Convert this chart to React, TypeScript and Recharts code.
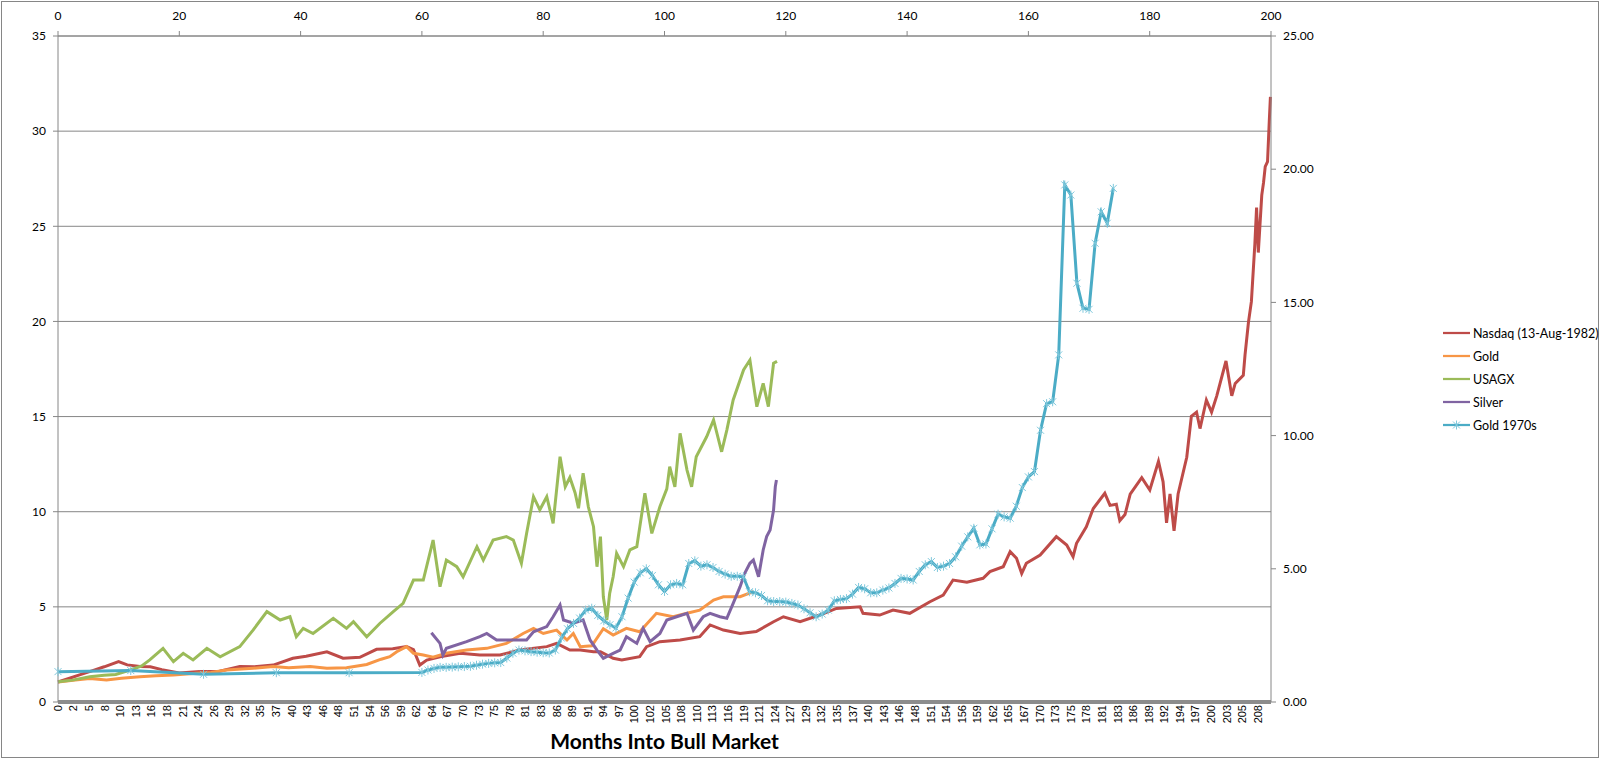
import React from 'react';
import { LineChart, Line, XAxis, YAxis, CartesianGrid, Legend } from 'recharts';

// bottom (primary) category labels, months into the bull market
const BOTTOM_LABELS = [
  '0', '2', '5', '8', '10', '13', '16', '18', '21', '24', '26', '29', '32', '35', '37', '40', '43', '46', '48', '51',
  '54', '56', '59', '62', '64', '67', '70', '73', '75', '78', '81', '83', '86', '89', '91', '94', '97', '100', '102', '105',
  '108', '110', '113', '116', '119', '121', '124', '127', '129', '132', '135', '137', '140', '143', '146', '148', '151', '154', '156', '159',
  '162', '165', '167', '170', '173', '175', '178', '181', '183', '186', '189', '192', '194', '197', '200', '203', '205', '208',
];
const LABEL_STEP = 2.7005;
const BOTTOM_MAX = 210.2;
const TOP_TICKS = [0, 20, 40, 60, 80, 100, 120, 140, 160, 180, 200];
const LEFT_TICKS = [0, 5, 10, 15, 20, 25, 30, 35];
const RIGHT_TICKS = [0, 5, 10, 15, 20, 25];

// [month, value]
const NASDAQ: [number, number][] = [
  [0, 1.05], [2, 1.25], [4, 1.45], [6, 1.65], [8, 1.85], [10.5, 2.12], [12, 1.95], [14.2, 1.86], [16, 1.85], [18, 1.7],
  [21, 1.52], [24.6, 1.6], [28, 1.62], [31.5, 1.86], [34, 1.85], [37.3, 1.94], [40.7, 2.3], [43, 2.4], [46.6, 2.64], [49.4, 2.3],
  [52.3, 2.35], [55.2, 2.77], [58, 2.8], [60.4, 2.91], [61.6, 2.75], [62.7, 1.94], [63.9, 2.2], [66.2, 2.38], [69.7, 2.56], [73.1, 2.47],
  [76.6, 2.47], [80, 2.73], [84.7, 2.91], [86.4, 3.08], [88.7, 2.73], [90.5, 2.73], [92.8, 2.64], [94, 2.64], [96.2, 2.3], [97.7, 2.21],
  [100.8, 2.38], [102, 2.91], [104.3, 3.17], [107.8, 3.26], [111.2, 3.43], [113, 4.05], [115.3, 3.78], [118.2, 3.6], [121, 3.7], [124, 4.22],
  [125.7, 4.48], [128.6, 4.22], [132, 4.57], [134.9, 4.92], [139, 5.0], [139.5, 4.66], [142.4, 4.57], [144.7, 4.83], [147.6, 4.66], [151.1, 5.27],
  [153.4, 5.62], [155.1, 6.41], [157.5, 6.3], [160.3, 6.5], [161.5, 6.85], [163.8, 7.11], [165, 7.9], [166.1, 7.55], [167, 6.76], [167.8, 7.29],
  [170.2, 7.72], [173, 8.69], [174.8, 8.25], [175.9, 7.64], [176.5, 8.34], [178.2, 9.21], [179.4, 10.17], [181.4, 10.97], [182.3, 10.33], [183.4, 10.39],
  [184, 9.53], [184.9, 9.85], [185.8, 10.93], [187.8, 11.79], [189.2, 11.14], [190.7, 12.65], [191.5, 11.57], [192.1, 9.42], [192.7, 10.93], [193.4, 8.99],
  [194.1, 10.93], [195.6, 12.86], [196.4, 15.01], [197.3, 15.23], [197.9, 14.37], [199, 15.87], [199.9, 15.23], [200.8, 16.09], [202.4, 17.92], [203.4, 16.09],
  [204, 16.74], [205.4, 17.17], [205.7, 18.24], [206.3, 19.97], [206.8, 21.04], [207.4, 24.05], [207.7, 25.99], [208, 23.62], [208.6, 26.64], [208.9, 27.28],
  [209.2, 28.14], [209.6, 28.4], [209.9, 30.51], [210.1, 31.8],
];

const GOLD: [number, number][] = [
  [0, 1.05], [3, 1.15], [5.5, 1.24], [8.4, 1.16], [11, 1.25], [14.2, 1.33], [17, 1.38], [20, 1.42], [24, 1.51], [26.5, 1.55],
  [29.2, 1.68], [33.8, 1.77], [37.3, 1.86], [40, 1.8], [43.7, 1.86], [46.6, 1.77], [50, 1.8], [53.5, 1.97], [56, 2.25], [57.5, 2.38],
  [58.7, 2.64], [60.4, 2.91], [61.6, 2.56], [63.3, 2.47], [65, 2.35], [67.3, 2.56], [70.8, 2.73], [74.3, 2.82], [77.7, 3.08], [80.6, 3.6],
  [82.4, 3.87], [84.1, 3.6], [86.4, 3.78], [88.2, 3.26], [89.3, 3.6], [90.5, 2.91], [92.5, 2.95], [94.5, 3.85], [96.2, 3.52], [98.5, 3.87],
  [100.8, 3.69], [103.7, 4.66], [106.6, 4.48], [109, 4.66], [111.2, 4.83], [113.6, 5.36], [115.3, 5.53], [118.2, 5.53], [120.5, 5.8],
];

const USAGX: [number, number][] = [
  [0, 1.07], [2.5, 1.15], [5.5, 1.33], [8, 1.4], [10, 1.45], [12.5, 1.68], [14.5, 1.9], [15.9, 2.21], [18.2, 2.82], [20, 2.12],
  [21.7, 2.56], [23.4, 2.21], [25.8, 2.82], [28.1, 2.38], [31.5, 2.91], [33.8, 3.78], [36.2, 4.75], [38.5, 4.31], [40.2, 4.48], [41.3, 3.43],
  [42.5, 3.87], [44.2, 3.6], [47.7, 4.4], [50, 3.87], [51.2, 4.22], [53.5, 3.43], [55.8, 4.14], [58.1, 4.75], [59.8, 5.18], [61.6, 6.41],
  [63.3, 6.41], [65, 8.51], [66.2, 6.06], [67.3, 7.46], [69.1, 7.11], [70.2, 6.58], [72.6, 8.16], [73.7, 7.46], [75.4, 8.51], [77.7, 8.69],
  [78.9, 8.51], [80.3, 7.29], [81.2, 8.86], [82.4, 10.79], [83.5, 10.1], [84.7, 10.79], [85.8, 9.39], [87, 12.89], [87.9, 11.31], [88.7, 11.8],
  [89.6, 11.0], [90.2, 10.18], [91, 12.02], [91.9, 10.26], [92.8, 9.21], [93.4, 7.11], [94, 8.69], [94.5, 5.53], [95.1, 4.31], [95.6, 5.71],
  [96.2, 6.58], [96.8, 7.81], [98, 7.11], [99.1, 7.99], [100.3, 8.16], [101.7, 10.97], [102.9, 8.86], [104.3, 10.26], [105.5, 11.2], [106, 12.37],
  [106.9, 11.3], [107.8, 14.12], [109, 12.19], [109.8, 11.31], [110.6, 12.89], [112.4, 13.94], [113.6, 14.82], [115, 13.15], [115.9, 14.29], [117, 15.87],
  [118.8, 17.45], [119.9, 17.97], [121.1, 15.52], [122.2, 16.75], [123.1, 15.52], [124, 17.8], [124.6, 17.9],
];

const SILVER: [number, number][] = [
  [64.7, 3.64], [66.2, 3.08], [66.7, 2.47], [67.3, 2.82], [70.8, 3.17], [73.1, 3.43], [74.3, 3.6], [76, 3.26], [78.9, 3.26], [81.2, 3.26],
  [82.4, 3.69], [84.7, 3.96], [85.8, 4.48], [87, 5.1], [87.6, 4.31], [89.3, 4.14], [91, 4.31], [92.2, 3.26], [93.4, 2.73], [94.5, 2.3],
  [96.2, 2.56], [97.4, 2.73], [98.5, 3.43], [100.3, 3.08], [101.4, 3.87], [102.6, 3.17], [104.3, 3.6], [105.5, 4.31], [107.2, 4.48], [109, 4.66],
  [110.1, 3.78], [111.8, 4.48], [113, 4.66], [114.7, 4.48], [115.9, 4.4], [117, 5.18], [118.2, 6.06], [119, 6.76], [119.9, 7.29], [120.5, 7.46],
  [121.4, 6.58], [122.2, 7.99], [122.8, 8.69], [123.4, 9.04], [124, 10.09], [124.3, 11.31], [124.5, 11.67],
];

// Gold 1970s: [month (top axis), value (right axis)]
const GOLD_70S: [number, number][] = [
  [0, 1.14], [12, 1.18], [24, 1.04], [36, 1.1], [48, 1.1], [60, 1.11], [61, 1.2], [62, 1.26], [63, 1.3], [64, 1.3],
  [65, 1.31], [66, 1.32], [67, 1.33], [68, 1.34], [69, 1.38], [70, 1.42], [71, 1.45], [72, 1.47], [73, 1.48], [74, 1.65],
  [75, 1.83], [76, 1.95], [77, 1.92], [78, 1.89], [79, 1.87], [80, 1.85], [81, 1.84], [82, 1.95], [83, 2.4], [84, 2.75],
  [85, 2.95], [86, 3.15], [87, 3.45], [88, 3.52], [89, 3.25], [90, 3.05], [91, 2.9], [92, 2.78], [93, 3.2], [94, 3.9],
  [95, 4.5], [96, 4.85], [97, 5.0], [98, 4.75], [99, 4.4], [100, 4.15], [101, 4.4], [102, 4.45], [103, 4.4], [104, 5.2],
  [105, 5.3], [106, 5.1], [107, 5.15], [108, 5.05], [109, 4.9], [110, 4.8], [111, 4.72], [112, 4.72], [113, 4.7], [114, 4.14],
  [115, 4.1], [116, 4.0], [117, 3.8], [118, 3.77], [119, 3.77], [120, 3.75], [121, 3.7], [122, 3.64], [123, 3.5], [124, 3.35],
  [125, 3.2], [126, 3.3], [127, 3.45], [128, 3.8], [129, 3.85], [130, 3.88], [131, 4.05], [132, 4.3], [133, 4.25], [134, 4.1],
  [135, 4.1], [136, 4.2], [137, 4.28], [138, 4.45], [139, 4.64], [140, 4.62], [141, 4.58], [142, 4.9], [143, 5.15], [144, 5.27],
  [145, 5.05], [146, 5.1], [147, 5.2], [148, 5.45], [149, 5.85], [150, 6.2], [151, 6.52], [152, 5.9], [153, 5.93], [154, 6.5],
  [155, 7.05], [156, 6.95], [157, 6.9], [158, 7.35], [159, 8.05], [160, 8.45], [161, 8.65], [162, 10.2], [163, 11.2], [164, 11.27],
  [165, 13.03], [166, 19.41], [167, 19.03], [168, 15.72], [169, 14.78], [170, 14.74], [171, 17.22], [172, 18.4], [173, 17.97], [174, 19.28],
];

const SERIES = [
  { name: 'Nasdaq (13-Aug-1982)', color: '#BE4B48' },
  { name: 'Gold', color: '#F79646' },
  { name: 'USAGX', color: '#9BBB59' },
  { name: 'Silver', color: '#8064A2' },
  { name: 'Gold 1970s', color: '#4BACC6', star: true },
];

const FONT = 'Lato, "Open Sans", sans-serif';
const AXIS_GRAY = '#868686';
const STAR_COLOR = '#7fc8dc';

const toRows = (pts: [number, number][]) => pts.map(([m, v]) => ({ m, v }));
const toTopRows = (pts: [number, number][]) => pts.map(([t, r]) => ({ t, r }));

const bottomTicks = BOTTOM_LABELS.map((_, i) => i * LABEL_STEP);

const BottomTick = (props: any) => {
  const { x, y, payload } = props;
  const idx = Math.round(payload.value / LABEL_STEP);
  return (
    <text
      x={x} y={y}
      transform={`rotate(-90, ${x}, ${y})`}
      textAnchor="end" dy="0.35em"
      fontSize={11} fontFamily='"Liberation Sans", Arial, sans-serif' fill="#000"
    >
      {BOTTOM_LABELS[idx]}
    </text>
  );
};

const starPath = (cx: number, cy: number, s = 3.5) =>
  `M${cx - s},${cy - s}L${cx + s},${cy + s}M${cx - s},${cy + s}L${cx + s},${cy - s}M${cx},${cy - s - 1}L${cx},${cy + s + 1}`;

const StarDot = (props: any) => {
  const { cx, cy, index } = props;
  if (cx == null || cy == null) return <g key={`s-${index}`} />;
  return <path key={`s-${index}`} d={starPath(cx, cy)} stroke={STAR_COLOR} strokeWidth={1} fill="none" />;
};

// keeps the series order of the original legend
const LegendContent = () => (
  <div style={{ fontFamily: FONT, fontSize: 12.5, color: '#000', whiteSpace: 'nowrap' }}>
    {SERIES.map(s => (
      <div key={s.name} style={{ height: 23.1, display: 'flex', alignItems: 'center' }}>
        <svg width={28} height={10} style={{ marginRight: 2 }}>
          <line x1={0} y1={5} x2={27} y2={5} stroke={s.color} strokeWidth={2.25} />
          {s.star && <path d={starPath(13.5, 5)} stroke={STAR_COLOR} strokeWidth={1} fill="none" />}
        </svg>
        <span>{s.name}</span>
      </div>
    ))}
  </div>
);

export default function App() {
  return (
    <div style={{ position: 'relative', width: 1600, height: 759, background: '#fff' }}>
      <style>{'body{margin:0;background:#fff}'}</style>
      <div style={{
        position: 'absolute', left: 1, top: 1, width: 1598, height: 757,
        boxSizing: 'border-box', border: `1px solid ${AXIS_GRAY}`,
      }} />
      <LineChart
        width={1600} height={759}
        margin={{ top: 0, right: 269, bottom: 0, left: 0 }}
        style={{ position: 'absolute', left: 0, top: 0 }}
      >
        <CartesianGrid xAxisId="bottom" yAxisId="left" vertical={false} stroke={AXIS_GRAY} strokeWidth={1} />
        <XAxis
          xAxisId="bottom" dataKey="m" type="number" domain={[0, BOTTOM_MAX]} ticks={bottomTicks}
          interval={0} height={57} tickLine={false} tickSize={0} tickMargin={3}
          axisLine={{ stroke: '#8c8c8c', strokeWidth: 4 }}
          tick={<BottomTick />}
          label={{
            value: 'Months Into Bull Market', position: 'insideBottom', offset: 10,
            style: { fontFamily: FONT, fontWeight: 700, fontSize: 21, fill: '#000' },
          }}
        />
        <XAxis
          xAxisId="top" orientation="top" dataKey="t" type="number" domain={[0, 200]} ticks={TOP_TICKS}
          interval={0} height={36} tickSize={5} tickMargin={11}
          axisLine={{ stroke: AXIS_GRAY }} tickLine={{ stroke: AXIS_GRAY }}
          tick={{ fontSize: 12, fontFamily: FONT, fill: '#000' }}
        />
        <YAxis
          yAxisId="left" type="number" domain={[0, 35]} ticks={LEFT_TICKS} interval={0}
          width={58} tickSize={5} tickMargin={7}
          axisLine={{ stroke: AXIS_GRAY }} tickLine={{ stroke: AXIS_GRAY }}
          tick={{ fontSize: 12, fontFamily: FONT, fill: '#000' }}
        />
        <YAxis
          yAxisId="right" orientation="right" type="number" domain={[0, 25]} ticks={RIGHT_TICKS} interval={0}
          width={60} tickSize={5} tickMargin={7}
          axisLine={{ stroke: AXIS_GRAY }} tickLine={{ stroke: AXIS_GRAY }}
          tick={{ fontSize: 12, fontFamily: FONT, fill: '#000' }}
          tickFormatter={(v: number) => v.toFixed(2)}
        />
        <Legend
          layout="vertical" align="center" verticalAlign="middle"
          wrapperStyle={{ left: 1443, top: 321.5, width: 156 }}
          content={<LegendContent />}
        />
        <Line
          name={SERIES[0].name} data={toRows(NASDAQ)} dataKey="v"
          xAxisId="bottom" yAxisId="left" type="linear"
          stroke={SERIES[0].color} strokeWidth={3} dot={false} isAnimationActive={false}
        />
        <Line
          name={SERIES[1].name} data={toRows(GOLD)} dataKey="v"
          xAxisId="bottom" yAxisId="left" type="linear"
          stroke={SERIES[1].color} strokeWidth={3} dot={false} isAnimationActive={false}
        />
        <Line
          name={SERIES[2].name} data={toRows(USAGX)} dataKey="v"
          xAxisId="bottom" yAxisId="left" type="linear"
          stroke={SERIES[2].color} strokeWidth={3} dot={false} isAnimationActive={false}
        />
        <Line
          name={SERIES[3].name} data={toRows(SILVER)} dataKey="v"
          xAxisId="bottom" yAxisId="left" type="linear"
          stroke={SERIES[3].color} strokeWidth={3} dot={false} isAnimationActive={false}
        />
        <Line
          name={SERIES[4].name} data={toTopRows(GOLD_70S)} dataKey="r"
          xAxisId="top" yAxisId="right" type="linear"
          stroke={SERIES[4].color} strokeWidth={3} dot={<StarDot />} isAnimationActive={false}
        />
      </LineChart>
    </div>
  );
}
